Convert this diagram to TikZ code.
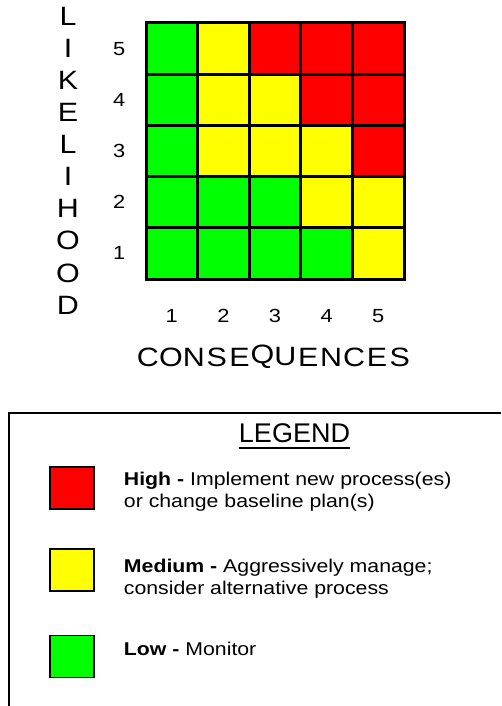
\documentclass[tikz,border=0pt]{standalone}
\usepackage{fontspec}
\setmainfont{Liberation Sans}[FakeStretch=1.15]
\newfontfamily\legendfont{Liberation Sans}
\usetikzlibrary{positioning}

\definecolor{hi}{RGB}{255,0,0}
\definecolor{md}{RGB}{255,255,0}
\definecolor{lo}{RGB}{0,255,0}

\begin{document}
\begin{tikzpicture}[
  x=1pt, y=-1pt,
  cell/.style={rectangle, draw=black, line width=3pt, minimum width=51.6pt, minimum height=51.2pt, inner sep=0pt},
  axisletter/.style={font=\fontsize{26.5}{26.5}\selectfont, inner sep=0pt},
  num/.style={font=\fontsize{19}{19}\selectfont, inner sep=0pt},
  key/.style={rectangle, draw=black, line width=1.5pt, minimum width=44pt, minimum height=42pt, inner sep=0pt},
  keytext/.style={font=\fontsize{18.5}{22}\selectfont, align=left, inner sep=0pt}
]
\useasboundingbox (0,0) rectangle (501,706);

% risk matrix, row 5 on top
\foreach \r/\row in {5/{lo,md,hi,hi,hi}, 4/{lo,md,md,hi,hi}, 3/{lo,md,md,md,hi}, 2/{lo,lo,lo,md,md}, 1/{lo,lo,lo,lo,md}}
  \foreach \f [count=\c] in \row
    \node[cell, fill=\f] (cell-\r-\c) at ({146+51.6*(\c-0.5)}, {23+51.2*(5.5-\r)}) {};

\foreach \r in {1,...,5}
  \node[num, left=19pt of cell-\r-1] (row\r) {\r};
\foreach \c in {1,...,5}
  \node[num, below=29pt of cell-1-\c] (col\c) {\c};

% axis titles
\foreach \ch [count=\i] in {L,I,K,E,L,I,H,O,O,D}
  \node[axisletter] (like\i) at (68, {16.5+32.05*(\i-1)}) {\ch};
\foreach \ch [count=\i] in {C,O,N,S,E,Q,U,E,N,C,E,S}
  \node[axisletter] (cons\i) at ({148+22.9*(\i-1)}, 357) {\ch};

% legend
\draw[line width=2pt] (9,706) -- (9,413) -- (501,413);
\node[font=\legendfont\fontsize{27}{27}\selectfont, inner sep=0pt] (legend) at (294.5, 433.5) {LEGEND};
\draw[line width=1.8pt] ([yshift=-5.5pt]legend.base west) -- ([yshift=-5.5pt]legend.base east);

\node[key, fill=hi] (keyhi) at (72, 488) {};
\node[key, fill=md, below=38.5pt of keyhi] (keymd) {};
\node[key, fill=lo, below=43pt of keymd] (keylo) {};

\node[keytext, right=29pt of keyhi, yshift=-4pt] (texthi) {\textbf{High -} Implement new process(es)\\or change baseline plan(s)};
\node[keytext, right=29pt of keymd, yshift=-9pt] (textmd) {\textbf{Medium -} Aggressively manage;\\consider alternative process};
\node[keytext, right=29pt of keylo, yshift=7.5pt] (textlo) {\textbf{Low -} Monitor};
\end{tikzpicture}
\end{document}
